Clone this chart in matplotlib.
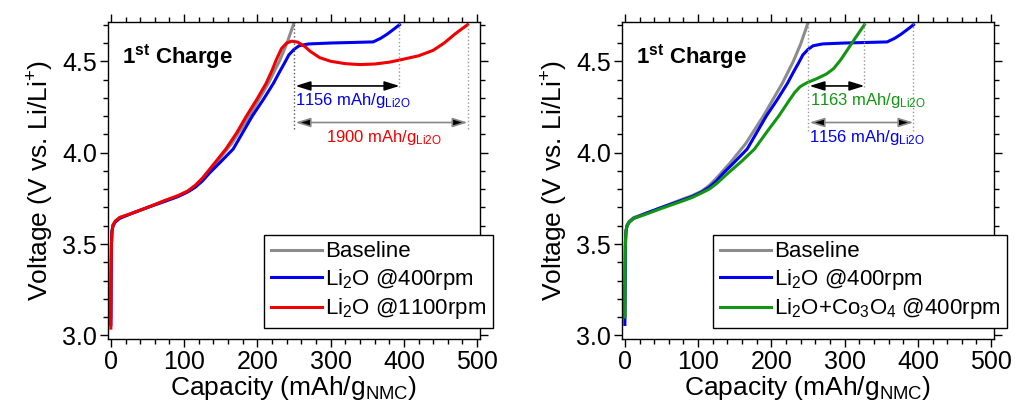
import matplotlib
matplotlib.use("Agg")
import matplotlib.pyplot as plt
from matplotlib.ticker import MultipleLocator, FormatStrFormatter

plt.rcParams['font.family'] = ['Liberation Sans', 'DejaVu Sans']
plt.rcParams['mathtext.default'] = 'regular'

# capacity (mAh/g NMC) and voltage (V)
base_c = [0, 0.3, 0.8, 1.5, 3, 6, 12, 30, 50, 75, 92, 105, 115, 125, 135, 145, 165, 189, 215, 230, 240, 250]
base_v = [3.10, 3.30, 3.50, 3.57, 3.605, 3.625, 3.645, 3.67, 3.70, 3.74, 3.765, 3.79, 3.82, 3.86, 3.905, 3.95, 4.05, 4.20, 4.38, 4.50, 4.595, 4.71]

li400_c = [0, 0.3, 0.8, 1.5, 3, 6, 12, 30, 50, 75, 92, 105, 115, 125, 135, 150, 167, 180, 193, 208, 222, 230, 237, 243, 250,
           257, 270, 300, 330, 358, 368, 377, 386, 394]
li400_v = [3.06, 3.30, 3.50, 3.57, 3.60, 3.62, 3.64, 3.67, 3.70, 3.735, 3.76, 3.785, 3.81, 3.845, 3.89, 3.95, 4.02, 4.11, 4.20, 4.29, 4.38, 4.44, 4.49, 4.535, 4.565,
           4.585, 4.595, 4.60, 4.603, 4.606, 4.625, 4.648, 4.675, 4.70]

li1100_c = [0, 0.3, 0.8, 1.5, 3, 6, 12, 30, 50, 75, 92, 105, 115, 125, 135, 157, 172, 185, 199, 212, 220, 226, 233, 240, 247, 255,
            265, 272, 285, 300, 320, 340, 360, 380, 400, 420, 440, 455, 470, 480, 487]
li1100_v = [3.04, 3.30, 3.50, 3.57, 3.605, 3.625, 3.645, 3.67, 3.70, 3.74, 3.765, 3.79, 3.82, 3.86, 3.91, 4.02, 4.11, 4.20, 4.29, 4.38, 4.45, 4.51, 4.57, 4.60, 4.61, 4.605,
            4.58, 4.555, 4.52, 4.50, 4.487, 4.482, 4.485, 4.495, 4.512, 4.53, 4.56, 4.60, 4.65, 4.68, 4.70]

co_c = [0, 0.3, 0.8, 1.5, 3, 6, 12, 30, 50, 75, 92, 105, 115, 125, 140, 160, 177, 195, 210, 225, 232, 239, 245, 250, 262,
        275, 285, 295, 305, 315, 327]
co_v = [3.10, 3.35, 3.52, 3.575, 3.60, 3.62, 3.64, 3.665, 3.695, 3.73, 3.755, 3.78, 3.80, 3.83, 3.885, 3.955, 4.02, 4.12, 4.20, 4.29, 4.33, 4.36, 4.375, 4.385, 4.405,
        4.43, 4.46, 4.51, 4.57, 4.63, 4.70]

gray = '#8c8c8c'
blue = '#0000f0'
red = '#f00000'
green = '#129612'

fig = plt.figure(figsize=(10.28, 4.15), dpi=100)
ax1 = fig.add_axes([0.105, 0.183, 0.362, 0.764])
ax2 = fig.add_axes([0.605, 0.183, 0.362, 0.764])


def style(ax):
    ax.set_xlim(-4, 504)
    ax.set_ylim(2.98, 4.715)
    ax.xaxis.set_major_locator(MultipleLocator(100))
    ax.xaxis.set_minor_locator(MultipleLocator(20))
    ax.yaxis.set_major_locator(MultipleLocator(0.5))
    ax.yaxis.set_minor_locator(MultipleLocator(0.1))
    ax.yaxis.set_major_formatter(FormatStrFormatter('%.1f'))
    ax.tick_params(which='both', direction='out', top=True, right=True, labelsize=18, width=1)
    ax.tick_params(which='major', length=6, pad=2)
    ax.tick_params(which='minor', length=3.5)
    for s in ax.spines.values():
        s.set_linewidth(1)
    ax.set_xlabel('Capacity (mAh/g$_{NMC}$)', fontsize=19, labelpad=0)
    ax.set_ylabel('Voltage (V vs. Li/Li$^{+}$)', fontsize=19, labelpad=4)
    ax.text(15, 4.49, '1$^{st}$ Charge', fontsize=16, fontweight='bold')


def span(ax, x0, x1, y, ycol, lcol, label, ty, tx):
    ax.annotate('', xy=(x1, y), xytext=(x0 + 2, y),
                arrowprops=dict(arrowstyle='<|-|>,head_length=0.9,head_width=0.28',
                                ec=lcol, fc='black', lw=1.2, shrinkA=0, shrinkB=0))
    ax.text(tx, ty, label, color=ycol, fontsize=12, ha='left', va='center')


def legend(ax):
    leg = ax.legend(loc='lower right', bbox_to_anchor=(1.035, 0.035), borderaxespad=0, fontsize=16,
                    fancybox=False, edgecolor='black', framealpha=1, handlelength=2.3, handletextpad=0.15,
                    labelspacing=0.2, borderpad=0.3)
    leg.get_frame().set_linewidth(1)


# left panel
style(ax1)
ax1.plot(base_c, base_v, color=gray, lw=2.2, label='Baseline')
ax1.plot(li400_c, li400_v, color=blue, lw=2.2, label='Li$_2$O @400rpm')
ax1.plot(li1100_c, li1100_v, color=red, lw=2.2, label='Li$_2$O @1100rpm')
ax1.vlines(base_c[-1], 4.13, 4.71, colors='#555555', linestyles=':', lw=1)
ax1.vlines(li400_c[-1], 4.36, 4.71, colors='#999999', linestyles=':', lw=1)
ax1.vlines(li1100_c[-1], 4.13, 4.71, colors='#999999', linestyles=':', lw=1)
span(ax1, base_c[-1], li400_c[-1], 4.365, blue, 'black', '1156 mAh/g$_{Li2O}$', 4.285, 251)
span(ax1, base_c[-1], li1100_c[-1], 4.165, red, '#888888', '1900 mAh/g$_{Li2O}$', 4.085, 294)
legend(ax1)

# right panel
style(ax2)
ax2.plot(base_c, base_v, color=gray, lw=2.2, label='Baseline')
ax2.plot(li400_c, li400_v, color=blue, lw=2.2, label='Li$_2$O @400rpm')
ax2.plot(co_c, co_v, color=green, lw=2.2, label='Li$_2$O+Co$_3$O$_4$ @400rpm')
ax2.vlines(base_c[-1], 4.12, 4.71, colors='#999999', linestyles=':', lw=1)
ax2.vlines(co_c[-1], 4.36, 4.71, colors='#999999', linestyles=':', lw=1)
ax2.vlines(li400_c[-1], 4.12, 4.71, colors='#999999', linestyles=':', lw=1)
span(ax2, base_c[-1], co_c[-1], 4.365, green, 'black', '1163 mAh/g$_{Li2O}$', 4.285, 253)
span(ax2, base_c[-1], li400_c[-1], 4.165, blue, '#888888', '1156 mAh/g$_{Li2O}$', 4.085, 252)
legend(ax2)

fig.savefig('out.png', dpi=100)
